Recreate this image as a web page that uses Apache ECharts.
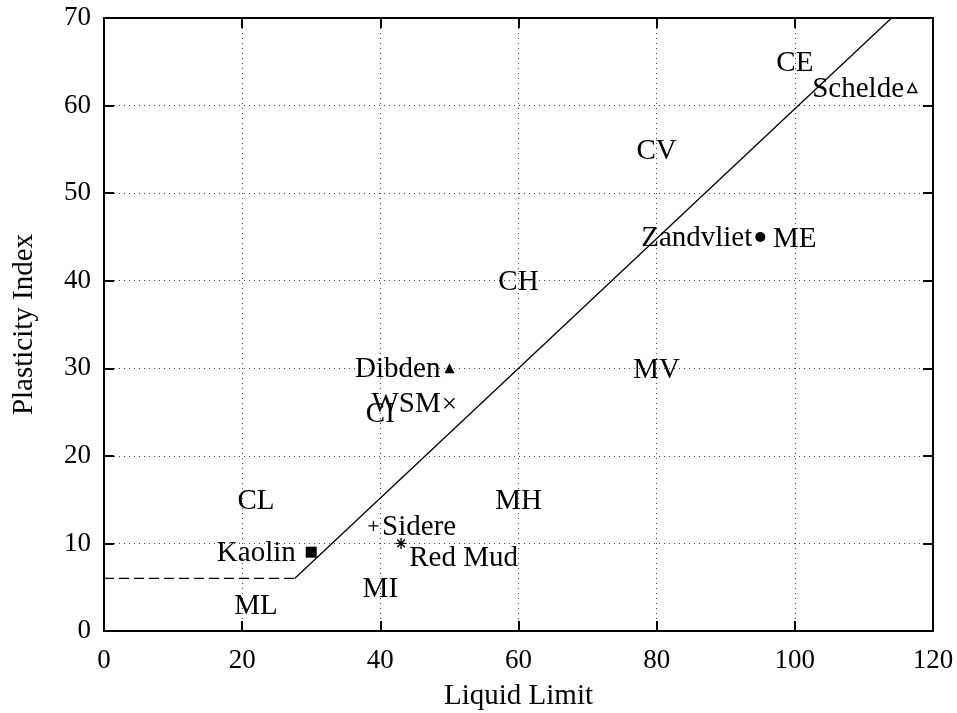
<!DOCTYPE html>
<html>
<head>
<meta charset="utf-8">
<script src="https://cdn.jsdelivr.net/npm/echarts@6/dist/echarts.min.js"></script>
<style>
  html, body { margin: 0; padding: 0; background: #fff; }
  #chart { width: 957px; height: 713px; }
</style>
</head>
<body>
<div id="chart"></div>
<script>
// Soil samples on the plasticity chart
const sampleNames = ['Schelde', 'Zandvliet', 'Dibden', 'WSM', 'Sidere', 'Red Mud', 'Kaolin'];
const sampleLL    = [117, 95, 50, 50, 39, 43, 30];
const samplePI    = [62, 45, 30, 26, 12, 10, 9];

// Soil class zones
const zoneNames = ['CL', 'ML', 'CI', 'MI', 'CH', 'MH', 'CV', 'MV', 'CE', 'ME'];
const zoneLL    = [22, 22, 40, 40, 60, 60, 80, 80, 100, 100];
const zonePI    = [15, 3, 25, 5, 40, 15, 55, 30, 65, 45];

// A-line and the horizontal low-plasticity limit
const aLineLL = [27.6, 114];
const aLinePI = [6, 70];
const lowLimitLL = [0, 27.6];
const lowLimitPI = [6, 6];

const FONT = '"Liberation Serif", "Times New Roman", serif';

// marker styling per sample
const markerStyles = {
  'Schelde':   { symbol: 'triangle', size: 9, color: '#fff', border: 1.5, pos: 'left', dist: 3 },
  'Zandvliet': { symbol: 'circle', size: 10, color: '#000', border: 0, pos: 'left', dist: 3 },
  'Dibden':    { symbol: 'triangle', size: 10, color: '#000', border: 0, pos: 'left', dist: 4 },
  'WSM':       { symbol: 'path://M0,0L10,10M10,0L0,10', size: 10, color: 'transparent', border: 1.3, pos: 'left', dist: 3 },
  'Sidere':    { symbol: 'path://M5,0L5,10M0,5L10,5', size: 10, color: 'transparent', border: 1.3, pos: 'right', dist: 3 },
  'Red Mud':   { symbol: 'path://M5,0L5,10M0,5L10,5M1.5,1.5L8.5,8.5M8.5,1.5L1.5,8.5', size: 11, color: 'transparent', border: 1.3, pos: 'right', dist: 2, offset: [0, 15] },
  'Kaolin':    { symbol: 'rect', size: 11, color: '#000', border: 0, pos: 'left', dist: 10 }
};

const sampleData = sampleNames.map((n, i) => {
  const s = markerStyles[n];
  return {
    name: n,
    value: [sampleLL[i], samplePI[i]],
    symbol: s.symbol,
    symbolSize: s.size,
    itemStyle: { color: s.color, borderColor: '#000', borderWidth: s.border, opacity: 1 },
    label: {
      show: true, position: s.pos, distance: s.dist, offset: s.offset || [0, 1],
      formatter: '{b}', color: '#000', fontSize: 29, fontFamily: FONT
    }
  };
});

const zoneData = zoneNames.map((n, i) => ({ name: n, value: [zoneLL[i], zonePI[i]] }));

const axisLine = { show: true, onZero: false, lineStyle: { color: '#000', width: 2 } };
const axisTick = { show: true, inside: true, length: 10, lineStyle: { color: '#000', width: 2 } };
const gridLine = { show: true, lineStyle: { color: '#444', width: 1, type: [1, 4] } };
const tickFont = { color: '#000', fontSize: 27, fontFamily: FONT };
const nameFont = { color: '#000', fontSize: 29, fontFamily: FONT };

const option = {
  animation: false,
  backgroundColor: '#fff',
  grid: { left: 104, right: 24, top: 18, bottom: 82, containLabel: false, outerBoundsMode: 'none' },
  xAxis: [
    {
      type: 'value', min: 0, max: 120, interval: 20, position: 'bottom',
      axisLine, axisTick, splitLine: gridLine,
      axisLabel: Object.assign({ margin: 16, showMinLabel: true, showMaxLabel: true }, tickFont),
      name: 'Liquid Limit', nameLocation: 'middle', nameGap: 51, nameTextStyle: nameFont
    },
    {
      type: 'value', min: 0, max: 120, interval: 20, position: 'top',
      axisLine, axisTick, splitLine: { show: false }, axisLabel: { show: false }
    }
  ],
  yAxis: [
    {
      type: 'value', min: 0, max: 70, interval: 10, position: 'left',
      axisLine, axisTick, splitLine: gridLine,
      axisLabel: Object.assign({ margin: 13, showMinLabel: true, showMaxLabel: true }, tickFont),
      name: 'Plasticity Index', nameLocation: 'middle', nameGap: 65, nameTextStyle: nameFont
    },
    {
      type: 'value', min: 0, max: 70, interval: 10, position: 'right',
      axisLine, axisTick, splitLine: { show: false }, axisLabel: { show: false }
    }
  ],
  series: [
    {
      type: 'line', showSymbol: false, silent: true, z: 3,
      data: aLineLL.map((x, i) => [x, aLinePI[i]]),
      lineStyle: { color: '#000', width: 1.3 }
    },
    {
      type: 'line', showSymbol: false, silent: true, z: 3,
      data: lowLimitLL.map((x, i) => [x, lowLimitPI[i]]),
      lineStyle: { color: '#000', width: 1.3, type: [10, 5] }
    },
    {
      type: 'scatter', symbolSize: 0, z: 4, silent: true,
      itemStyle: { opacity: 1 },
      data: zoneData,
      label: { show: true, position: 'inside', offset: [0, 2], formatter: '{b}', color: '#000', fontSize: 29, fontFamily: FONT }
    },
    {
      type: 'scatter', z: 5, silent: true,
      data: sampleData
    }
  ]
};

const chart = echarts.init(document.getElementById('chart'), null, { renderer: 'canvas' });
chart.setOption(option);
</script>
</body>
</html>
